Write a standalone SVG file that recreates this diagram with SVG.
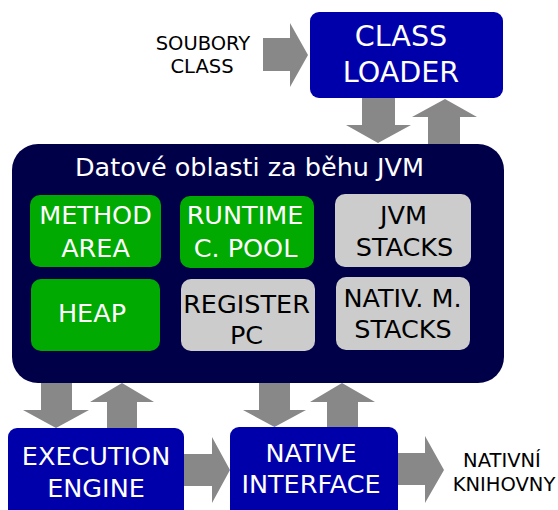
<svg xmlns="http://www.w3.org/2000/svg" width="558" height="510" viewBox="0 0 558 510">
<style>
.arrow{fill:#888888}
.blue{fill:#0000aa}
.green{fill:#00aa00}
.gray{fill:#cccccc}
text{font-family:"DejaVu Sans","Noto Sans",sans-serif;text-anchor:middle}
.w{fill:#ffffff}
.k{fill:#000000}
.f25{font-size:25.5px}
.f28{font-size:28.6px}
.f19{font-size:19.5px}
</style>
<rect width="558" height="510" fill="#ffffff"/>
<g id="connectors">
<polygon class="arrow" points="263,38 290,38 290,23 308,55 290,87 290,71 263,71"/>
<polygon class="arrow" points="362,96 395,96 395,125 411,125 378,143 346,125 362,125"/>
<polygon class="arrow" points="428,148 460,148 460,117 477,117 445,99 412,117 428,117"/>
<polygon class="arrow" points="41,380 72,380 72,410 89,410 56,428 23,410 41,410"/>
<polygon class="arrow" points="107,430 137,430 137,402 154,402 122,383 90,402 107,402"/>
<polygon class="arrow" points="259,380 290,380 290,410 306,410 274.5,427 243,410 259,410"/>
<polygon class="arrow" points="327,430 358,430 358,402 375,402 342,383 310,402 327,402"/>
<polygon class="arrow" points="182,454 212,454 212,437 230,470 212,503 212,486 182,486"/>
<polygon class="arrow" points="396,453 425,453 425,436 444,470 425,503 425,485 396,485"/>
</g>
<g id="soubory">
<text class="k f19" x="203" y="50">SOUBORY</text>
<text class="k f19" x="202" y="73">CLASS</text>
</g>
<g id="classloader">
<rect class="blue" x="310" y="12" width="193" height="86" rx="9"/>
<text class="w f28" x="401" y="46">CLASS</text>
<text class="w f28" x="401" y="82">LOADER</text>
</g>
<g id="jvm">
<rect x="12" y="144" width="492" height="239" rx="26" fill="#000048"/>
<text class="w f25" x="249.5" y="176">Datové oblasti za běhu JVM</text>
</g>
<g id="methodarea">
<rect class="green" x="30" y="195" width="131" height="72" rx="10"/>
<text class="w f25" x="95.5" y="224">METHOD</text>
<text class="w f25" x="95.5" y="257">AREA</text>
</g>
<g id="runtimepool">
<rect class="green" x="180" y="196" width="134" height="72" rx="10"/>
<text class="w f25" x="245" y="224">RUNTIME</text>
<text class="w f25" x="245.5" y="257">C. POOL</text>
</g>
<g id="jvmstacks">
<rect class="gray" x="335" y="194" width="136" height="73" rx="10"/>
<text class="k f25" x="403.5" y="224">JVM</text>
<text class="k f25" x="404.5" y="256">STACKS</text>
</g>
<g id="heap">
<rect class="green" x="31" y="279" width="129" height="72" rx="10"/>
<text class="w f25" x="92" y="322">HEAP</text>
</g>
<g id="registerpc">
<rect class="gray" x="181" y="279" width="134" height="72" rx="10"/>
<text class="k f25" x="246.5" y="313">REGISTER</text>
<text class="k f25" x="246.5" y="344">PC</text>
</g>
<g id="nativstacks">
<rect class="gray" x="336" y="277" width="134" height="73" rx="10"/>
<text class="k f25" x="402.5" y="307">NATIV. M.</text>
<text class="k f25" x="403" y="338">STACKS</text>
</g>
<g id="execution">
<rect class="blue" x="8" y="428" width="176" height="95" rx="9"/>
<text class="w f25" x="96" y="465">EXECUTION</text>
<text class="w f25" x="96" y="497">ENGINE</text>
</g>
<g id="nativeinterface">
<rect class="blue" x="230" y="427" width="168" height="96" rx="9"/>
<text class="w f25" x="311" y="462">NATIVE</text>
<text class="w f25" x="311" y="493">INTERFACE</text>
</g>
<g id="nativni">
<text class="k f19" x="502" y="467">NATIVNÍ</text>
<text class="k f19" x="504" y="491">KNIHOVNY</text>
</g>
</svg>
